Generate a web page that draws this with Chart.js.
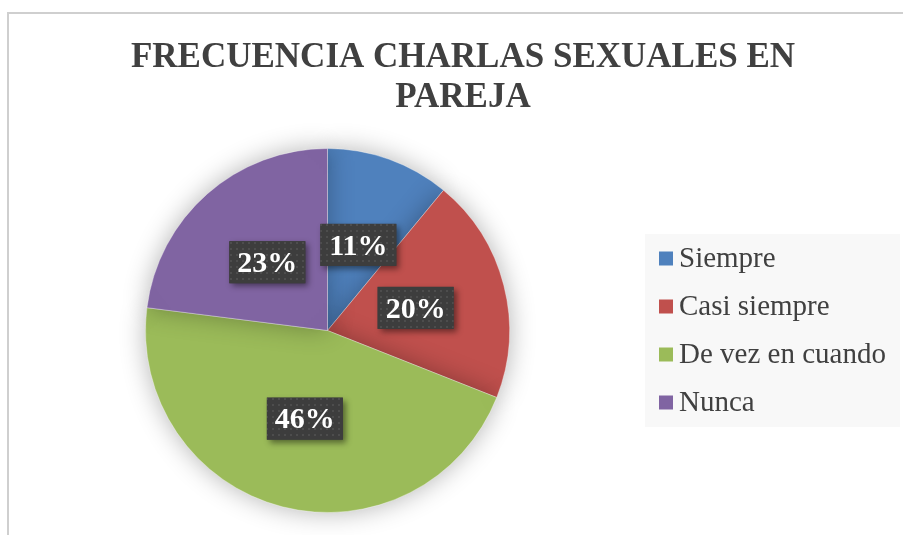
<!DOCTYPE html>
<html>
<head>
<meta charset="utf-8">
<script src="https://cdn.jsdelivr.net/npm/chart.js@4.4.1/dist/chart.umd.min.js"></script>
<style>
    html, body { margin: 0; padding: 0; background: #ffffff; overflow: hidden; }
    #frame {
        position: absolute; left: 7px; top: 12px; width: 1000px; height: 1000px;
        border-top: 2px solid #cfcfcf; border-left: 2px solid #cfcfcf;
    }
    #chartBox { position: absolute; left: 0; top: 0; width: 903px; height: 535px; }
</style>
</head>
<body>
<div id="frame"></div>
<div id="chartBox"><canvas id="pieChart" width="903" height="535"></canvas></div>
<script>
// data
const titleLines = ['FRECUENCIA CHARLAS SEXUALES EN', 'PAREJA'];
const categories = ['Siempre', 'Casi siempre', 'De vez en cuando', 'Nunca'];
const percents = [11, 20, 46, 23];
const sliceColors = ['#4f81bd', '#c0504d', '#9bbb59', '#8064a2'];

const SERIF = '"Liberation Serif", "Times New Roman", serif';

// small dotted texture used behind the data labels
function makeLabelPattern(ctx) {
    const p = document.createElement('canvas');
    p.width = 6; p.height = 6;
    const pc = p.getContext('2d');
    pc.fillStyle = '#3d3d3d';
    pc.fillRect(0, 0, 6, 6);
    pc.fillStyle = '#4d4d4d';
    pc.fillRect(2, 2, 2, 2);
    return ctx.createPattern(p, 'repeat');
}

const titlePlugin = {
    id: 'titleLines',
    afterDraw(chart) {
        const ctx = chart.ctx;
        ctx.save();
        ctx.fillStyle = '#404040';
        ctx.font = 'bold 35px ' + SERIF;
        ctx.textAlign = 'center';
        ctx.textBaseline = 'alphabetic';
        ctx.fillText(titleLines[0], 463, 67);
        ctx.fillText(titleLines[1], 463, 107);
        ctx.restore();
    }
};

const pieShadow = {
    id: 'pieShadow',
    beforeDatasetDraw(chart) {
        const ctx = chart.ctx;
        ctx.save();
        ctx.shadowColor = 'rgba(0, 0, 0, 0.3)';
        ctx.shadowBlur = 26;
    },
    afterDatasetDraw(chart) {
        chart.ctx.restore();
    }
};

const boxLabels = {
    id: 'boxLabels',
    afterDatasetsDraw(chart) {
        const ctx = chart.ctx;
        const pattern = makeLabelPattern(ctx);
        const meta = chart.getDatasetMeta(0);
        meta.data.forEach((arc, i) => {
            const pos = arc.tooltipPosition();
            const w = 76, h = 42;
            const x = pos.x - w / 2, y = pos.y - h / 2;
            ctx.save();
            ctx.shadowColor = 'rgba(0, 0, 0, 0.45)';
            ctx.shadowBlur = 6;
            ctx.shadowOffsetX = 3;
            ctx.shadowOffsetY = 3;
            ctx.fillStyle = '#3d3d3d';
            ctx.fillRect(x, y, w, h);
            ctx.restore();
            ctx.save();
            ctx.fillStyle = pattern;
            ctx.fillRect(x, y, w, h);
            ctx.fillStyle = '#ffffff';
            ctx.font = 'bold 30px ' + SERIF;
            ctx.textAlign = 'center';
            ctx.textBaseline = 'middle';
            ctx.fillText(percents[i] + '%', pos.x, pos.y + 2);
            ctx.restore();
        });
    }
};

const sideLegend = {
    id: 'sideLegend',
    afterDraw(chart) {
        const ctx = chart.ctx;
        ctx.save();
        ctx.fillStyle = '#f8f8f8';
        ctx.fillRect(645, 234, 255, 193);
        ctx.font = '29px ' + SERIF;
        ctx.textAlign = 'left';
        ctx.textBaseline = 'middle';
        categories.forEach((name, i) => {
            const cy = 258.5 + i * 48;
            ctx.fillStyle = sliceColors[i];
            ctx.fillRect(659, cy - 7, 14, 14);
            ctx.fillStyle = '#404040';
            ctx.fillText(name, 679, cy + 1);
        });
        ctx.restore();
    }
};

new Chart(document.getElementById('pieChart').getContext('2d'), {
    type: 'pie',
    data: {
        labels: categories,
        datasets: [{
            data: percents,
            backgroundColor: sliceColors,
            borderColor: 'rgba(255, 255, 255, 0.35)',
            borderWidth: 1
        }]
    },
    options: {
        responsive: false,
        animation: false,
        devicePixelRatio: 1,
        layout: {
            padding: { left: 145, right: 393, top: 148, bottom: 22 }
        },
        plugins: {
            legend: { display: false },
            title: { display: false },
            tooltip: { enabled: false }
        }
    },
    plugins: [pieShadow, boxLabels, sideLegend, titlePlugin]
});
</script>
</body>
</html>
